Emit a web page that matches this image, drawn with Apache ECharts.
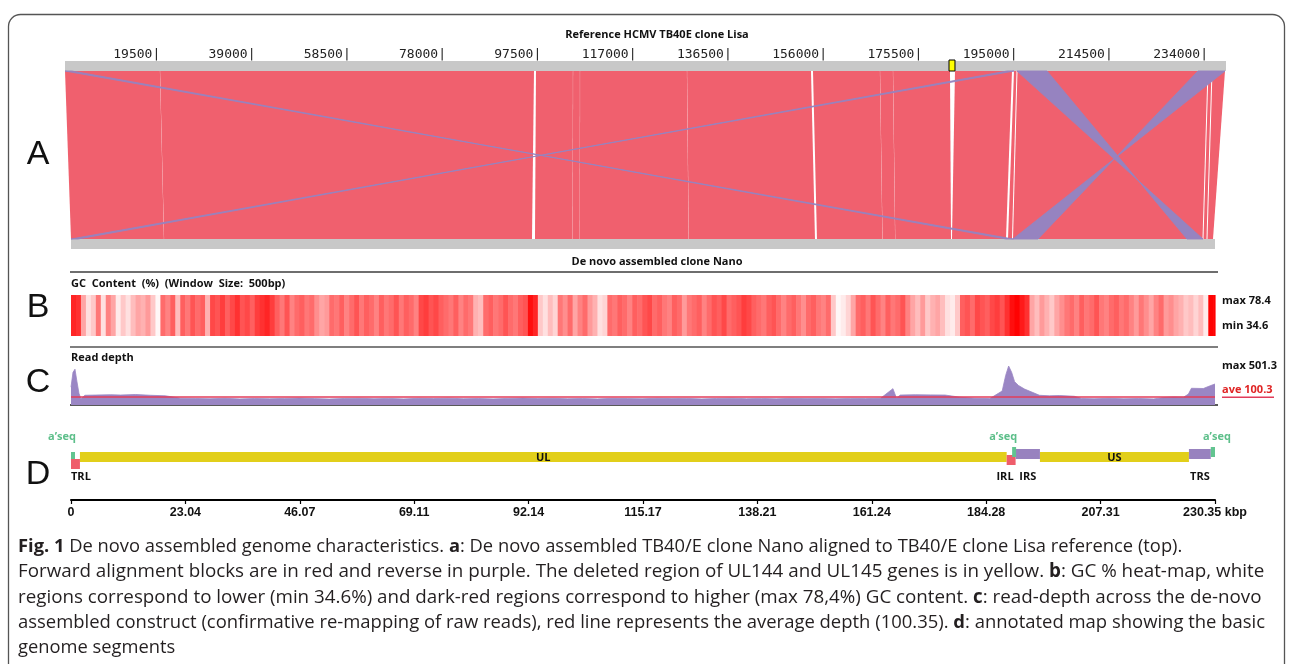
<!DOCTYPE html>
<html><head><meta charset="utf-8">
<script src="https://cdn.jsdelivr.net/npm/echarts/dist/echarts.min.js"></script>
<style>html,body{margin:0;padding:0;background:#fff}#c{width:1293px;height:664px}</style>
</head><body><div id="c"></div>
<script>
// ---------------- data ----------------
const refTitle = 'Reference HCMV TB40E clone Lisa';
const queryTitle = 'De novo assembled clone Nano';
const refLength = 237683;
const refTickInterval = 19500;
const queryLength = 230350;
const queryTickInterval = 23035;
const queryTickLabels = ['0','23.04','46.07','69.11','92.14','115.17','138.21','161.24','184.28','207.31','230.35 kbp'];
const deletedRegion = [180975, 182200]; // UL144 / UL145 on reference (yellow)
// [refStart, refEnd, queryStart, queryEnd]
const forwardBlocks = [
  [0, 19428, 0, 18706],
  [19468, 96014, 18746, 92823],
  [96423, 103980, 93427, 100999],
  [104020, 105412, 101039, 102429],
  [105452, 127317, 102469, 124356],
  [127357, 152722, 124396, 149806],
  [153131, 166828, 150209, 163377],
  [166868, 169489, 163417, 165935],
  [169529, 181178, 165975, 177191],
  [182202, 193871, 177392, 188265],
  [194280, 194792, 188668, 189473],
  [194997, 233894, 189675, 227831],
  [234099, 234713, 228032, 228636],
  [234918, 237476, 228838, 229945]
];
const reverseBlocks = [
  [194894, 201036, 224705, 227927],
  [231949, 237476, 189675, 194708],
  [0, 1400, 188300, 189700],
  [192900, 194300, 0, 1400]
];
const gcWindow = 1000;
const gcMin = 34.6, gcMax = 78.4;
const gcValues = [
  72,70,50,40,44,58,40,56,50,38, 44,40,46,50,48,52,44,36,60,56,
  62,46,62,58,64,60,62,48,66,64, 68,62,66,70,64,66,62,68,70,72,
  68,62,58,64,56,60,62,58,60,54, 50,52,60,58,62,56,60,64,58,62,
  60,56,62,58,60,64,58,62,60,56, 66,68,64,66,62,60,58,62,56,60,
  58,48,46,60,62,58,60,64,60,58, 62,64,76,72,44,40,46,42,58,54,
  60,50,56,60,52,48,40,42,60,58, 62,60,56,62,60,64,66,60,62,58,
  56,62,60,52,58,60,62,56,60,64, 62,66,60,62,64,68,66,62,60,58,
  62,64,60,56,60,62,58,54,60,62, 58,56,60,44,36,38,42,50,60,62,
  58,64,60,56,62,58,60,64,56,50, 46,52,44,48,50,46,40,38,44,62,
  64,60,66,64,62,66,68,64,70,76, 78,74,70,50,46,52,48,44,50,54,
  58,60,56,62,58,60,64,58,56,60, 62,58,60,56,52,58,54,50,56,60,
  52,54,50,48,44,46,42,46,38,78, 78
];
const depthMax = 501.3, depthAve = 100.3;
const depthPosKb = [0,0.4,0.8,1.2,1.6,2.0,2.8,5,8,10,13,16,19,22,25,28,31,34,37,40,43,46,49,52,55,58,61,64,67,70,73,76,79,82,85,88,91,94,97,100,103,106,109,112,115,118,121,124,127,130,133,136,139,142,145,148,151,154,157,160,163,165.5,166.2,167,170,173,176,179,182,185,187.5,188.2,188.8,189.4,190,190.8,192,195,197,199,202,203.5,206,209,212,215,218,220,222,224,225,225.6,228,229.5,230.35];
const depthValues = [230,420,460,300,150,80,125,128,132,128,135,125,118,88,84,80,86,78,84,80,85,90,82,76,84,87,80,85,78,86,82,88,80,84,78,85,89,82,86,80,84,78,86,83,80,87,82,85,78,84,88,81,85,79,86,82,84,80,85,82,86,210,90,128,132,130,128,100,86,82,180,380,501.3,420,300,250,205,125,118,122,112,84,80,86,80,84,78,96,104,100,140,215,212,250,270];
const segNames  = ['UL','US','TRL','IRL','IRS','TRS','a\u2019seq','a\u2019seq','a\u2019seq'];
const segKinds  = ['UL','US','TRL','IRL','IRS','TRS','aseqL','aseqI','aseqT'];
const segStart  = [1800, 195100, 0, 188400, 190200, 225100, 0, 189500, 229500];
const segEnd    = [188400, 225100, 1800, 190200, 195100, 229500, 800, 190300, 230350];
const captionLines = [
  '{b|Fig. 1} De novo assembled genome characteristics. {b|a}: De novo assembled TB40/E clone Nano aligned to TB40/E clone Lisa reference (top).',
  'Forward alignment blocks are in red and reverse in purple. The deleted region of UL144 and UL145 genes is in yellow. {b|b}: GC % heat-map, white',
  'regions correspond to lower (min 34.6%) and dark-red regions correspond to higher (max 78,4%) GC content. {b|c}: read-depth across the de-novo',
  'assembled construct (confirmative re-mapping of raw reads), red line represents the average depth (100.35). {b|d}: annotated map showing the basic',
  'genome segments'
];

// ---------------- styles / layout ----------------
const RED = '#f0606e', PURPLE = '#9683c0', GRAY = '#c8c8c8';
const BAR = 10;
const LBL = 'Open Sans';
const CAP_SIZES = [18.33, 18.82, 18.78, 18.47, 18.33];
const segStyle = {
  UL:   {fill:'#e2cf1a', y:0,  h:10, lab:'inside'},
  US:   {fill:'#e2cf1a', y:0,  h:10, lab:'inside'},
  TRL:  {fill:'#ef5d6b', y:7,  h:10, lab:'left'},
  IRL:  {fill:'#ef5d6b', y:3,  h:10, lab:'right'},
  IRS:  {fill:'#9882bf', y:-3, h:10, lab:'center'},
  TRS:  {fill:'#9882bf', y:-3, h:10, lab:'center'},
  aseqL:{fill:'#62c490', y:0,  h:7,  lab:'aboveRight'},
  aseqI:{fill:'#62c490', y:-5, h:10, lab:'aboveRight'},
  aseqT:{fill:'#62c490', y:-5, h:10, lab:'aboveCenter'}
};

// caption rich text (per-line sizes to follow the justified original)
const capRich = {};
const capText = captionLines.map((line, i) => {
  const fs = CAP_SIZES[i];
  capRich['n' + i] = {fontFamily:LBL, fontSize:fs, fontWeight:'normal', color:'#231f20', lineHeight:25.3};
  capRich['b' + i] = {fontFamily:LBL, fontSize:fs, fontWeight:'bold', color:'#231f20', lineHeight:25.3};
  const parts = line.split(/\{b\|([^}]*)\}/);
  return parts.map((p, j) => p === '' ? '' : (j % 2 ? '{b' + i + '|' + p + '}' : '{n' + i + '|' + p + '}')).join('');
}).join('\n');

const chart = echarts.init(document.getElementById('c'));
const Q_AXIS = 3;
const qx = v => chart.convertToPixel({xAxisIndex: Q_AXIS}, v);

function refBarItem(params, api) {
  const x1 = api.coord([api.value(0), 1])[0], x2 = api.coord([api.value(1), 1])[0];
  const y = api.coord([0, 1])[1];
  return {type:'rect', shape:{x:x1, y:y, width:x2-x1, height:BAR}, style:{fill:GRAY}};
}
function queryBarItem(params, api) {
  const x1 = qx(api.value(0)), x2 = qx(api.value(1));
  const y = api.coord([0, 0])[1] - BAR;
  return {type:'rect', shape:{x:x1, y:y, width:x2-x1, height:BAR}, style:{fill:GRAY}};
}
function deletedItem(params, api) {
  const x1 = api.coord([api.value(0), 1])[0], x2 = api.coord([api.value(1), 1])[0];
  const y = api.coord([0, 1])[1];
  return {type:'rect', shape:{x:x1, y:y-1, width:x2-x1, height:BAR+1}, style:{fill:'#ffff00', stroke:'#000', lineWidth:1}};
}
function alignItem(rev) {
  return function (params, api) {
    const yT = api.coord([0, 1])[1] + BAR, yB = api.coord([0, 0])[1] - BAR;
    const t1 = api.coord([api.value(0), 1])[0], t2 = api.coord([api.value(1), 1])[0];
    const b1 = qx(api.value(2)), b2 = qx(api.value(3));
    const pts = rev ? [[t1,yT],[t2,yT],[b1,yB],[b2,yB]] : [[t1,yT],[t2,yT],[b2,yB],[b1,yB]];
    return {type:'polygon', shape:{points:pts},
      style: rev ? {fill:PURPLE, stroke:PURPLE, lineWidth:0.9} : {fill:RED}};
  };
}
function gcItem(params, api) {
  const p1 = api.coord([api.value(0), 1]), p2 = api.coord([api.value(1), 0]);
  return {type:'rect', shape:{x:p1[0], y:p1[1], width:p2[0]-p1[0]+0.6, height:p2[1]-p1[1]}, style:{fill:api.visual('color')}};
}
function segItem(params, api) {
  const k = segKinds[params.dataIndex], st = segStyle[k], name = segNames[params.dataIndex];
  const x1 = api.coord([api.value(0), 1])[0], x2 = api.coord([api.value(1), 1])[0];
  const y0 = api.coord([0, 1])[1] + 12;
  const children = [{type:'rect', shape:{x:x1, y:y0+st.y, width:x2-x1, height:st.h}, style:{fill:st.fill}}];
  const tf = {fontFamily:LBL, fontWeight:'bold', fontSize:11, fill:'#111', text:name};
  let t = null;
  if (st.lab === 'inside') t = {x:(x1+x2)/2, y:y0+5.5, align:'center', verticalAlign:'middle'};
  else if (st.lab === 'left') t = {x:x1, y:y0+25, align:'left', verticalAlign:'middle'};
  else if (st.lab === 'right') t = {x:x2-2, y:y0+25, align:'right', verticalAlign:'middle'};
  else if (st.lab === 'center') t = {x:(x1+x2)/2, y:y0+25, align:'center', verticalAlign:'middle'};
  else if (st.lab === 'aboveRight') t = {x:x2+1, y:y0-15, align:'right', verticalAlign:'middle', fill:'#5dbf8a'};
  else if (st.lab === 'aboveCenter') t = {x:(x1+x2)/2+4, y:y0-15, align:'center', verticalAlign:'middle', fill:'#5dbf8a'};
  if (t) children.push({type:'text', style:Object.assign({}, tf, t)});
  return {type:'group', children};
}

const gcData = gcValues.map((v, i) => [i*gcWindow, Math.min((i+1)*gcWindow, queryLength), v]);
const depthData = depthPosKb.map((p, i) => [p*1000, depthValues[i]]);
const segData = segStart.map((s, i) => [s, segEnd[i]]);

const sepLine = (y, c, w) => ({type:'line', shape:{x1:70, y1:y, x2:1218, y2:y}, style:{stroke:c, lineWidth:w}});
const txt = (x, y, text, o) => ({type:'text', x, y, style:Object.assign({text, fontFamily:LBL, fontSize:11, fontWeight:'bold', fill:'#111', align:'left', verticalAlign:'middle'}, o||{})});
const letter = (y, s) => ({type:'text', x:38, y, style:{text:s, fontFamily:'Liberation Sans', fontSize:34, fill:'#111', align:'center', verticalAlign:'middle'}});

const qAxisHidden = gi => ({gridIndex:gi, type:'value', min:0, max:queryLength, show:false});

chart.setOption({
  animation:false,
  backgroundColor:'#fff',
  title: {
    text: capText, left:18, top:534, padding:0,
    textStyle:{fontFamily:LBL, fontSize:18.5, color:'#231f20', lineHeight:25.3, rich:capRich}
  },
  grid: [
    {left:65, right:67, top:61, height:188, outerBoundsMode:'none'},
    {left:71, right:78, top:295, height:41, outerBoundsMode:'none'},
    {left:71, right:78, top:366, height:39, outerBoundsMode:'none'},
    {left:71, right:78, top:440, height:60, outerBoundsMode:'none'}
  ],
  xAxis: [
    {gridIndex:0, type:'value', position:'top', min:0, max:refLength, interval:refTickInterval,
      axisLine:{show:false, onZero:false}, splitLine:{show:false}, axisTick:{show:false},
      axisLabel:{formatter: v => (v > 0 && v % refTickInterval === 0) ? v + '|' : '', align:'right', margin:0,
        fontFamily:'DejaVu Sans Mono', fontSize:13, color:'#222', hideOverlap:false}},
    qAxisHidden(1),
    qAxisHidden(2),
    {gridIndex:3, type:'value', min:0, max:queryLength, interval:queryTickInterval,
      axisLine:{show:true, onZero:false, lineStyle:{color:'#000', width:2}}, splitLine:{show:false},
      axisTick:{show:true, length:4, lineStyle:{color:'#000', width:1.2}},
      axisLabel:{formatter: v => queryTickLabels[Math.round(v/queryTickInterval)] || '', margin:6,
        fontFamily:'Liberation Sans', fontWeight:'bold', fontSize:12.5, color:'#111', hideOverlap:false}}
  ],
  yAxis: [
    {gridIndex:0, min:0, max:1, show:false},
    {gridIndex:1, min:0, max:1, show:false},
    {gridIndex:2, min:0, max:depthMax, show:false},
    {gridIndex:3, min:0, max:1, show:false}
  ],
  visualMap: {type:'continuous', show:false, seriesIndex:6, dimension:2, min:gcMin, max:gcMax,
    inRange:{color:['#ffffff', '#ff0000']}},
  series: [
    {type:'custom', name:'ref', xAxisIndex:0, yAxisIndex:0, clip:false, renderItem:refBarItem, data:[[0, refLength]], encode:{x:[0,1]}},
    {type:'custom', name:'query', xAxisIndex:0, yAxisIndex:0, clip:false, renderItem:queryBarItem, data:[[0, queryLength]], encode:{x:[0,1]}},
    {type:'custom', name:'forward', xAxisIndex:0, yAxisIndex:0, clip:false, renderItem:alignItem(false), data:forwardBlocks, encode:{x:[0,1]}},
    {type:'custom', name:'reverse', xAxisIndex:0, yAxisIndex:0, clip:false, renderItem:alignItem(true), data:reverseBlocks, encode:{x:[0,1]}, z:3},
    {type:'custom', name:'deleted', xAxisIndex:0, yAxisIndex:0, clip:false, renderItem:deletedItem, data:[deletedRegion], encode:{x:[0,1]}, z:4},
    {type:'custom', name:'segments', xAxisIndex:3, yAxisIndex:3, clip:false, renderItem:segItem, data:segData, encode:{x:[0,1]}},
    {type:'custom', name:'gc', xAxisIndex:1, yAxisIndex:1, clip:false, renderItem:gcItem, data:gcData, encode:{x:[0,1]}},
    {type:'line', name:'depth', xAxisIndex:2, yAxisIndex:2, data:depthData, showSymbol:false, silent:true,
      lineStyle:{color:'#9a86c4', width:0.8}, areaStyle:{color:'#9a86c4', opacity:1},
      markLine:{silent:true, symbol:'none', data:[
        {yAxis:depthAve, lineStyle:{color:'#e23c5a', width:1.5, type:'solid'},
          label:{formatter:'{t|ave ' + depthAve + '}\n{u| }', position:'end', distance:7, padding:[0,0,14,0],
            rich:{t:{color:'#e02424', fontFamily:LBL, fontWeight:'bold', fontSize:11, lineHeight:14},
                  u:{width:52, height:1.6, lineHeight:1.6, fontSize:1, backgroundColor:'#e23c5a'}}}},
        {yAxis:depthMax, lineStyle:{color:'rgba(0,0,0,0)', width:0},
          label:{formatter:'max ' + depthMax, position:'end', distance:7, color:'#111', fontFamily:LBL, fontWeight:'bold', fontSize:11}}
      ]}}
  ],
  graphic: [
    {type:'rect', shape:{x:8.5, y:14.5, width:1276, height:720, r:12}, style:{fill:'none', stroke:'#555', lineWidth:1.3}},
    txt(657, 35, refTitle, {align:'center'}),
    txt(657, 262, queryTitle, {align:'center'}),
    sepLine(272, '#6e6e6e', 2),
    txt(71, 284, 'GC  Content  (%)  (Window  Size:  500bp)'),
    txt(1222, 301, 'max ' + gcMax),
    txt(1222, 326, 'min ' + gcMin),
    sepLine(347, '#555', 1.5),
    txt(71, 358, 'Read depth'),
    sepLine(405, '#222', 1.5),
    letter(155, 'A'), letter(308, 'B'), letter(383, 'C'), letter(475, 'D')
  ]
});
</script></body></html>
